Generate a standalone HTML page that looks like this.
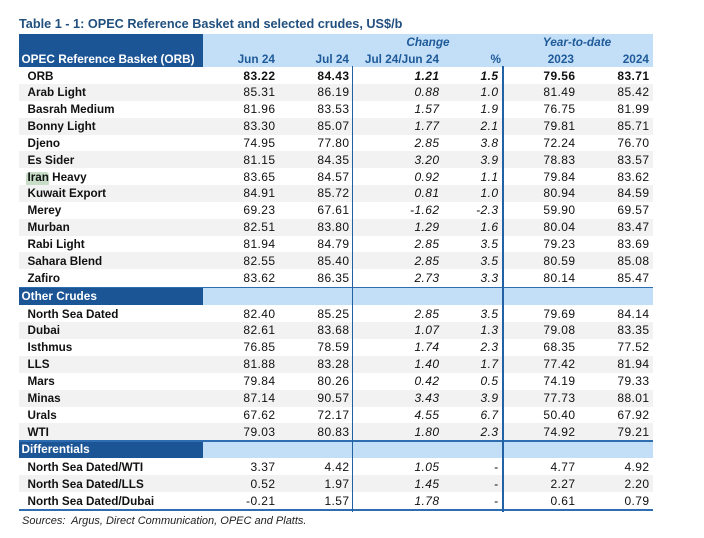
<!DOCTYPE html>
<html><head><meta charset="utf-8">
<style>
*{margin:0;padding:0;box-sizing:border-box}
body{width:704px;height:538px;background:#fff;position:relative;overflow:hidden;font-family:"Liberation Sans",Arial,sans-serif;color:#111}
.title{position:absolute;left:19px;top:16px;font-size:12.7px;font-weight:bold;color:#21507f;white-space:nowrap;line-height:17px}
.band{position:absolute;left:19px;width:634px;background:#c3dff8}
.dark{position:absolute;left:19px;width:184px;background:#1c5595}
.h{position:absolute;font-size:11.8px;font-weight:bold;color:#1f5a98;line-height:17px;white-space:nowrap}
.hw{position:absolute;font-size:11.8px;font-weight:bold;color:#fff;line-height:17px;white-space:nowrap;left:21.5px}
.r{position:absolute;left:19px;width:634px;height:17px;line-height:17px}
.g{background:#f2f2f2}
.r span{position:absolute;top:0.5px;white-space:nowrap;font-size:12px;letter-spacing:0.4px}
.r .l{left:8.5px;font-weight:bold;font-size:11.7px;letter-spacing:0}
.c1{right:377.6px}.c2{right:303.6px}.c3{right:213.6px;font-style:italic}.c4{right:154.6px;font-style:italic}.c5{right:77.6px}.c6{right:3.6px}
.b span{font-weight:bold}
.hl{position:absolute;left:26px;top:172px;width:23px;height:15px;background:#c7ddc7;border-radius:3px}
.vl{position:absolute;top:66px;width:1.6px;height:446px;background:#2262a4}
.hr{position:absolute;left:19px;width:634px;background:#2e6db0}
.src{position:absolute;left:22px;top:513.5px;font-size:11px;font-style:italic;color:#222;line-height:14px;white-space:nowrap}
</style></head><body>
<div class="title">Table 1 - 1: OPEC Reference Basket and selected crudes, US$/b</div>

<div class="band" style="top:34px;height:33px"></div>
<div class="dark" style="top:34px;height:33px"></div>
<div class="hw" style="top:50.5px">OPEC Reference Basket (ORB)</div>
<div class="h" style="top:34px;left:378px;width:100px;text-align:center;font-style:italic">Change</div>
<div class="h" style="top:34px;left:527px;width:100px;text-align:center;font-style:italic">Year-to-date</div>
<div class="h" style="top:50.5px;right:429px">Jun 24</div>
<div class="h" style="top:50.5px;right:355px">Jul 24</div>
<div class="h" style="top:50.5px;right:265px">Jul 24/Jun 24</div>
<div class="h" style="top:50.5px;right:203px">%</div>
<div class="h" style="top:50.5px;right:130px">2023</div>
<div class="h" style="top:50.5px;right:55px">2024</div>

<div class="r b" style="top:67px"><span class="l">ORB</span><span class="c1">83.22</span><span class="c2">84.43</span><span class="c3">1.21</span><span class="c4">1.5</span><span class="c5">79.56</span><span class="c6">83.71</span></div>
<div class="r g" style="top:83.85px"><span class="l">Arab Light</span><span class="c1">85.31</span><span class="c2">86.19</span><span class="c3">0.88</span><span class="c4">1.0</span><span class="c5">81.49</span><span class="c6">85.42</span></div>
<div class="r" style="top:100.7px"><span class="l">Basrah Medium</span><span class="c1">81.96</span><span class="c2">83.53</span><span class="c3">1.57</span><span class="c4">1.9</span><span class="c5">76.75</span><span class="c6">81.99</span></div>
<div class="r g" style="top:117.55px"><span class="l">Bonny Light</span><span class="c1">83.30</span><span class="c2">85.07</span><span class="c3">1.77</span><span class="c4">2.1</span><span class="c5">79.81</span><span class="c6">85.71</span></div>
<div class="r" style="top:134.4px"><span class="l">Djeno</span><span class="c1">74.95</span><span class="c2">77.80</span><span class="c3">2.85</span><span class="c4">3.8</span><span class="c5">72.24</span><span class="c6">76.70</span></div>
<div class="r g" style="top:151.25px"><span class="l">Es Sider</span><span class="c1">81.15</span><span class="c2">84.35</span><span class="c3">3.20</span><span class="c4">3.9</span><span class="c5">78.83</span><span class="c6">83.57</span></div>
<div class="hl"></div>
<div class="r" style="top:168.1px"><span class="l">Iran Heavy</span><span class="c1">83.65</span><span class="c2">84.57</span><span class="c3">0.92</span><span class="c4">1.1</span><span class="c5">79.84</span><span class="c6">83.62</span></div>
<div class="r g" style="top:184.95px"><span class="l">Kuwait Export</span><span class="c1">84.91</span><span class="c2">85.72</span><span class="c3">0.81</span><span class="c4">1.0</span><span class="c5">80.94</span><span class="c6">84.59</span></div>
<div class="r" style="top:201.8px"><span class="l">Merey</span><span class="c1">69.23</span><span class="c2">67.61</span><span class="c3">-1.62</span><span class="c4">-2.3</span><span class="c5">59.90</span><span class="c6">69.57</span></div>
<div class="r g" style="top:218.65px"><span class="l">Murban</span><span class="c1">82.51</span><span class="c2">83.80</span><span class="c3">1.29</span><span class="c4">1.6</span><span class="c5">80.04</span><span class="c6">83.47</span></div>
<div class="r" style="top:235.5px"><span class="l">Rabi Light</span><span class="c1">81.94</span><span class="c2">84.79</span><span class="c3">2.85</span><span class="c4">3.5</span><span class="c5">79.23</span><span class="c6">83.69</span></div>
<div class="r g" style="top:252.35px"><span class="l">Sahara Blend</span><span class="c1">82.55</span><span class="c2">85.40</span><span class="c3">2.85</span><span class="c4">3.5</span><span class="c5">80.59</span><span class="c6">85.08</span></div>
<div class="r" style="top:269.2px"><span class="l">Zafiro</span><span class="c1">83.62</span><span class="c2">86.35</span><span class="c3">2.73</span><span class="c4">3.3</span><span class="c5">80.14</span><span class="c6">85.47</span></div>

<div class="band" style="top:288px;height:17px"></div>
<div class="dark" style="top:288px;height:17px"></div>
<div class="hw" style="top:288px">Other Crudes</div>

<div class="r" style="top:305px"><span class="l">North Sea Dated</span><span class="c1">82.40</span><span class="c2">85.25</span><span class="c3">2.85</span><span class="c4">3.5</span><span class="c5">79.69</span><span class="c6">84.14</span></div>
<div class="r g" style="top:321.9px"><span class="l">Dubai</span><span class="c1">82.61</span><span class="c2">83.68</span><span class="c3">1.07</span><span class="c4">1.3</span><span class="c5">79.08</span><span class="c6">83.35</span></div>
<div class="r" style="top:338.8px"><span class="l">Isthmus</span><span class="c1">76.85</span><span class="c2">78.59</span><span class="c3">1.74</span><span class="c4">2.3</span><span class="c5">68.35</span><span class="c6">77.52</span></div>
<div class="r g" style="top:355.7px"><span class="l">LLS</span><span class="c1">81.88</span><span class="c2">83.28</span><span class="c3">1.40</span><span class="c4">1.7</span><span class="c5">77.42</span><span class="c6">81.94</span></div>
<div class="r" style="top:372.6px"><span class="l">Mars</span><span class="c1">79.84</span><span class="c2">80.26</span><span class="c3">0.42</span><span class="c4">0.5</span><span class="c5">74.19</span><span class="c6">79.33</span></div>
<div class="r g" style="top:389.5px"><span class="l">Minas</span><span class="c1">87.14</span><span class="c2">90.57</span><span class="c3">3.43</span><span class="c4">3.9</span><span class="c5">77.73</span><span class="c6">88.01</span></div>
<div class="r" style="top:406.4px"><span class="l">Urals</span><span class="c1">67.62</span><span class="c2">72.17</span><span class="c3">4.55</span><span class="c4">6.7</span><span class="c5">50.40</span><span class="c6">67.92</span></div>
<div class="r g" style="top:423.3px"><span class="l">WTI</span><span class="c1">79.03</span><span class="c2">80.83</span><span class="c3">1.80</span><span class="c4">2.3</span><span class="c5">74.92</span><span class="c6">79.21</span></div>

<div class="band" style="top:441.5px;height:16.5px"></div>
<div class="dark" style="top:441.5px;height:16.5px"></div>
<div class="hw" style="top:441px">Differentials</div>

<div class="r" style="top:458px"><span class="l">North Sea Dated/WTI</span><span class="c1">3.37</span><span class="c2">4.42</span><span class="c3">1.05</span><span class="c4">-</span><span class="c5">4.77</span><span class="c6">4.92</span></div>
<div class="r g" style="top:475px"><span class="l">North Sea Dated/LLS</span><span class="c1">0.52</span><span class="c2">1.97</span><span class="c3">1.45</span><span class="c4">-</span><span class="c5">2.27</span><span class="c6">2.20</span></div>
<div class="r" style="top:492px"><span class="l">North Sea Dated/Dubai</span><span class="c1">-0.21</span><span class="c2">1.57</span><span class="c3">1.78</span><span class="c4">-</span><span class="c5">0.61</span><span class="c6">0.79</span></div>

<div class="hr" style="top:286.5px;height:1.5px"></div>
<div class="hr" style="top:440px;height:1.5px"></div>
<div class="hr" style="top:509px;height:2.2px"></div>
<div class="vl" style="left:351.8px"></div>
<div class="vl" style="left:502.4px"></div>

<div class="src">Sources:&nbsp; Argus, Direct Communication, OPEC and Platts.</div>
</body></html>
